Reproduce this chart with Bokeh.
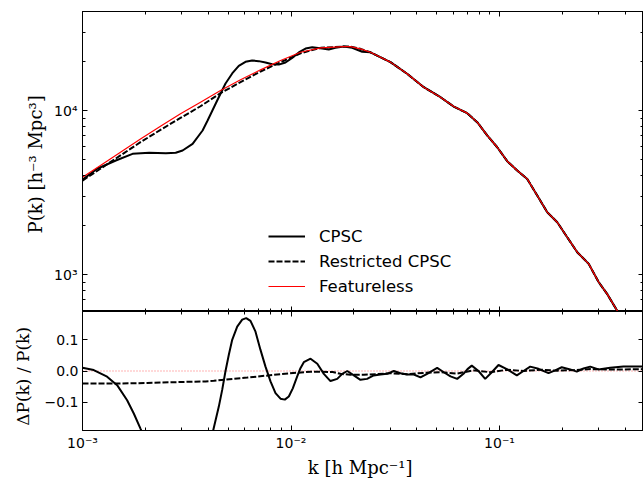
from bokeh.plotting import figure
from bokeh.models import (Range1d, LogAxis, LinearAxis, FixedTicker,
                          CustomJSTickFormatter, Legend, LegendItem)
from bokeh.layouts import column
from bokeh.embed import file_html
from bokeh.resources import INLINE

# ---------------- data ----------------
k_featureless = [0.001, 0.001219, 0.001521, 0.001897, 0.002366, 0.002951, 0.003681,
                 0.004592, 0.005728, 0.007145, 0.008913, 0.01112, 0.01387, 0.01791,
                 0.01928, 0.02153, 0.02404, 0.02999, 0.03606, 0.04335, 0.05212,
                 0.06039, 0.06998, 0.07816, 0.0873, 0.0975, 0.1089, 0.1216, 0.1358,
                 0.1517, 0.1694, 0.1892, 0.2113, 0.236, 0.2679, 0.2992, 0.3281,
                 0.3664, 0.417]
P_featureless = [3917, 4624, 5572, 6714, 8017, 9550, 11246, 13243, 15382, 17701,
                 20184, 22646, 24099, 24547, 24547, 23770, 22646, 19724, 16749,
                 13868, 12050, 10568, 9638, 8492, 7047, 5970, 4909, 4305, 3828,
                 3034, 2399, 2084, 1687, 1368, 1161, 897, 762, 603, 479]

k_restricted = [0.001, 0.001219, 0.001521, 0.001897, 0.002366, 0.002951, 0.003681,
                0.004592, 0.005728, 0.007145, 0.008913, 0.01112, 0.01387, 0.01791,
                0.01928, 0.02153, 0.02404, 0.02999, 0.03606, 0.04335, 0.05212,
                0.06039, 0.06998, 0.07816, 0.0873, 0.0975, 0.1089, 0.1216, 0.1358,
                0.1517, 0.1694, 0.1892, 0.2113, 0.236, 0.2679, 0.2992, 0.3281,
                0.3664, 0.417]
P_restricted = [3741, 4416, 5321, 6412, 7621, 9016, 10617, 12764, 14894, 17298,
                19724, 22336, 24099, 24547, 24547, 23770, 22646, 19724, 16749,
                13868, 12050, 10568, 9638, 8492, 7047, 5970, 4909, 4305, 3828,
                3034, 2399, 2084, 1687, 1368, 1161, 897, 762, 603, 479]

k_cpsc = [0.001, 0.001175, 0.001445, 0.001738, 0.002089, 0.002512, 0.002799,
          0.00302, 0.003373, 0.003767, 0.003981, 0.004426, 0.004852, 0.005224,
          0.005618, 0.00605, 0.006514, 0.007009, 0.007545, 0.008124, 0.00874,
          0.00941, 0.01013, 0.0109, 0.01174, 0.01264, 0.01411, 0.01518, 0.01634,
          0.01791, 0.01965, 0.02195, 0.02404, 0.02999, 0.03606, 0.04335, 0.05212,
          0.06039, 0.06998, 0.07816, 0.0873, 0.0975, 0.1089, 0.1216, 0.1358,
          0.1517, 0.1694, 0.1892, 0.2113, 0.236, 0.2679, 0.2992, 0.3281,
          0.3664, 0.417]
P_cpsc = [3790, 4416, 4955, 5445, 5521, 5495, 5521, 5702, 6266, 7551, 8690,
          11508, 14622, 16827, 18707, 19815, 20184, 19999, 19634, 19143, 19055,
          19634, 20941, 22594, 23878, 24322, 23878, 23550, 24099, 24547, 24099,
          22803, 22646, 19724, 16749, 13868, 12050, 10568, 9638, 8492, 7047,
          5970, 4909, 4305, 3828, 3034, 2399, 2084, 1687, 1368, 1161, 897, 762,
          603, 479]

k_cpsc_ratio = [0.001, 0.001132, 0.001312, 0.001466, 0.001637, 0.001762, 0.001897,
                0.002042, 0.0024, 0.0028, 0.0033, 0.0038, 0.004236, 0.004506,
                0.004677, 0.004852, 0.00503, 0.005224, 0.005521, 0.005834,
                0.006097, 0.006393, 0.006757, 0.00714, 0.007545, 0.007974,
                0.008427, 0.008905, 0.009339, 0.009761, 0.0102, 0.01071, 0.0111,
                0.01152, 0.01241, 0.01337, 0.01437, 0.01546, 0.01666, 0.01761,
                0.01862, 0.02002, 0.02153, 0.02317, 0.02492, 0.02685, 0.02891,
                0.03112, 0.0335, 0.03606, 0.03882, 0.04178, 0.04498, 0.05023,
                0.05405, 0.05821, 0.06266, 0.06719, 0.07022, 0.07362, 0.07928,
                0.08539, 0.09186, 0.0989, 0.1084, 0.1211, 0.1303, 0.1404, 0.1538,
                0.1718, 0.1849, 0.1989, 0.2183, 0.2348, 0.2528, 0.2723, 0.2984,
                0.3396, 0.3933, 0.4905]
cpsc_ratio = [0.010, 0.003, -0.018, -0.045, -0.093, -0.135, -0.183, -0.23, -0.32,
              -0.37, -0.36, -0.29, -0.188, -0.113, -0.060, 0.0, 0.051, 0.099,
              0.141, 0.163, 0.168, 0.159, 0.125, 0.067, 0.014, -0.033, -0.070,
              -0.088, -0.091, -0.081, -0.055, -0.017, 0.009, 0.028, 0.039, 0.023,
              -0.009, -0.032, -0.025, -0.009, 0.0, -0.014, -0.028, -0.025, -0.014,
              -0.011, -0.009, 0.0, -0.007, -0.011, -0.011, -0.020, -0.009, 0.010,
              -0.004, -0.017, -0.025, -0.009, 0.006, 0.017, 0.0, -0.025, -0.004,
              0.019, 0.006, -0.014, 0.0, 0.014, 0.007, -0.007, 0.002, 0.012,
              0.005, -0.002, 0.008, 0.014, 0.005, 0.010, 0.014, 0.014]

k_restricted_ratio = [0.001, 0.001413, 0.002042, 0.002951, 0.003890, 0.004266,
                      0.006166, 0.008913, 0.01242, 0.01585, 0.01726, 0.01928,
                      0.02234, 0.02588, 0.02999, 0.03606, 0.04335, 0.05212,
                      0.06266, 0.07534, 0.09057, 0.1089, 0.1309, 0.1574, 0.1892,
                      0.2275, 0.2735, 0.3289, 0.3945, 0.4905]
restricted_ratio = [-0.040, -0.040, -0.038, -0.035, -0.033, -0.031, -0.021, -0.010,
                    -0.002, -0.003, -0.009, -0.012, -0.012, -0.010, -0.007, -0.010,
                    -0.006, -0.004, -0.008, 0.002, -0.004, 0.004, 0.000, 0.004,
                    0.001, 0.003, 0.006, 0.005, 0.005, 0.006]

k_featureless_ratio = [0.001, 0.4905]
featureless_ratio = [0.0, 0.0]

y_major_top = [1e3, 1e4]
x_major = [1e-3, 1e-2, 1e-1]
ratio_ticks = [-0.1, 0.0, 0.1]
series_labels = ["CPSC", "Restricted CPSC", "Featureless"]

# ---------------- layout constants ----------------
W = 643
X_RANGE = (0.001, 0.4905)
Y_RANGE_TOP = (595, 40150)
Y_RANGE_BOT = (-0.189, 0.189)

x_minor = [m * d for d in (1e-3, 1e-2, 1e-1) for m in range(2, 10) if m * d < 0.49]
y_minor_top = [m * d for d in (1e2, 1e3, 1e4) for m in range(2, 10) if 595 < m * d < 40150]

sup_js = """
const s = {"-":"\\u207b","0":"\\u2070","1":"\\u00b9","2":"\\u00b2","3":"\\u00b3",
           "4":"\\u2074","5":"\\u2075","6":"\\u2076","7":"\\u2077","8":"\\u2078","9":"\\u2079"};
const e = Math.round(Math.log10(tick));
return "10" + String(e).split("").map(c => s[c]).join("");
"""
ratio_js = """
if (Math.abs(tick) < 1e-9) return "0.0";
return (tick < 0 ? "\\u2212" : "") + Math.abs(tick).toFixed(1);
"""
empty_js = 'return "";'

TICK_FONT = "DejaVu Sans"
LABEL_FONT = "DejaVu Serif"


def style_axis(ax, show_labels, linear_minor=False):
    ax.major_tick_in = 5
    ax.major_tick_out = 0
    ax.minor_tick_in = 3
    ax.minor_tick_out = 0
    ax.axis_line_color = "black"
    ax.axis_line_width = 1
    ax.major_tick_line_color = "black"
    ax.minor_tick_line_color = None if linear_minor else "black"
    ax.major_tick_line_width = 1
    ax.minor_tick_line_width = 1
    if show_labels:
        ax.major_label_text_font = TICK_FONT
        ax.major_label_text_font_size = "14px"
        ax.major_label_text_color = "black"
        ax.major_label_standoff = 5
    else:
        ax.formatter = CustomJSTickFormatter(code=empty_js)
        ax.major_label_text_font_size = "1px"
        ax.major_label_standoff = 0
        ax.axis_label = None


# ---------------- top panel ----------------
top = figure(width=W, height=311, x_axis_type="log", y_axis_type="log",
             x_range=Range1d(*X_RANGE), y_range=Range1d(*Y_RANGE_TOP),
             output_backend="svg", toolbar_location=None,
             min_border_left=82, min_border_right=0, min_border_top=11,
             min_border_bottom=0)
top.grid.visible = False
top.outline_line_color = "black"
top.background_fill_color = "white"
top.border_fill_color = "white"

top.xaxis.ticker = FixedTicker(ticks=x_major, minor_ticks=x_minor)
style_axis(top.xaxis[0], False)
top.yaxis.ticker = FixedTicker(ticks=y_major_top, minor_ticks=y_minor_top)
top.yaxis.formatter = CustomJSTickFormatter(code=sup_js)
style_axis(top.yaxis[0], True)
top.yaxis.axis_label = "P(k)  [h\u207b\u00b3 Mpc\u00b3]"
top.yaxis.axis_label_text_font = LABEL_FONT
top.yaxis.axis_label_text_font_style = "normal"
top.yaxis.axis_label_text_font_size = "18px"
top.yaxis.axis_label_text_color = "black"
top.yaxis.axis_label_standoff = 5

ax_top = LogAxis(ticker=FixedTicker(ticks=x_major, minor_ticks=x_minor))
style_axis(ax_top, False)
top.add_layout(ax_top, "above")
ax_right = LogAxis(ticker=FixedTicker(ticks=y_major_top, minor_ticks=y_minor_top))
style_axis(ax_right, False)
top.add_layout(ax_right, "right")

r_cpsc = top.line(k_cpsc, P_cpsc, line_color="black", line_width=2)
r_restr = top.line(k_restricted, P_restricted, line_color="black", line_width=2,
                   line_dash="6 2")
r_feat = top.line(k_featureless, P_featureless, line_color="#ff0000", line_width=1.2)

legend = Legend(items=[LegendItem(label=series_labels[0], renderers=[r_cpsc]),
                       LegendItem(label=series_labels[1], renderers=[r_restr]),
                       LegendItem(label=series_labels[2], renderers=[r_feat])],
                location=(186, 15), orientation="vertical",
                border_line_color=None, background_fill_alpha=0,
                padding=0, margin=0, spacing=5, glyph_width=37, glyph_height=20,
                label_height=20, label_standoff=14,
                label_text_font="DejaVu Sans", label_text_font_size="16.5px",
                label_text_color="black")
top.add_layout(legend)

# ---------------- bottom panel ----------------
bot = figure(width=W, height=170, x_axis_type="log",
             x_range=top.x_range, y_range=Range1d(*Y_RANGE_BOT),
             output_backend="svg", toolbar_location=None,
             min_border_left=82, min_border_right=0, min_border_top=0,
             min_border_bottom=51)
bot.grid.visible = False
bot.outline_line_color = "black"
bot.background_fill_color = "white"
bot.border_fill_color = "white"

bot.xaxis.ticker = FixedTicker(ticks=x_major, minor_ticks=x_minor)
bot.xaxis.formatter = CustomJSTickFormatter(code=sup_js)
style_axis(bot.xaxis[0], True)
bot.xaxis.major_label_standoff = 4
bot.xaxis.axis_label = "k  [h Mpc\u207b\u00b9]"
bot.xaxis.axis_label_text_font = LABEL_FONT
bot.xaxis.axis_label_text_font_style = "normal"
bot.xaxis.axis_label_text_font_size = "18px"
bot.xaxis.axis_label_text_color = "black"
bot.xaxis.axis_label_standoff = 3

bot.yaxis.ticker = FixedTicker(ticks=ratio_ticks)
bot.yaxis.formatter = CustomJSTickFormatter(code=ratio_js)
style_axis(bot.yaxis[0], True, linear_minor=True)
bot.yaxis.major_label_standoff = 4
bot.yaxis.axis_label = "\u0394P(k)  /  P(k)"
bot.yaxis.axis_label_text_font = LABEL_FONT
bot.yaxis.axis_label_text_font_style = "normal"
bot.yaxis.axis_label_text_font_size = "17px"
bot.yaxis.axis_label_text_color = "black"
bot.yaxis.axis_label_standoff = 9

bax_top = LogAxis(ticker=FixedTicker(ticks=x_major, minor_ticks=x_minor))
style_axis(bax_top, False)
bot.add_layout(bax_top, "above")
bax_right = LinearAxis(ticker=FixedTicker(ticks=ratio_ticks))
style_axis(bax_right, False, linear_minor=True)
bot.add_layout(bax_right, "right")

bot.line(k_featureless_ratio, featureless_ratio, line_color="#ff0000", line_alpha=0.6,
         line_width=1.2, line_dash="1 2")
bot.line(k_restricted_ratio, restricted_ratio, line_color="black", line_width=2,
         line_dash="6 2")
bot.line(k_cpsc_ratio, cpsc_ratio, line_color="black", line_width=2)

layout = column(top, bot, spacing=0)
open("out.html", "w").write(file_html(layout, INLINE))
